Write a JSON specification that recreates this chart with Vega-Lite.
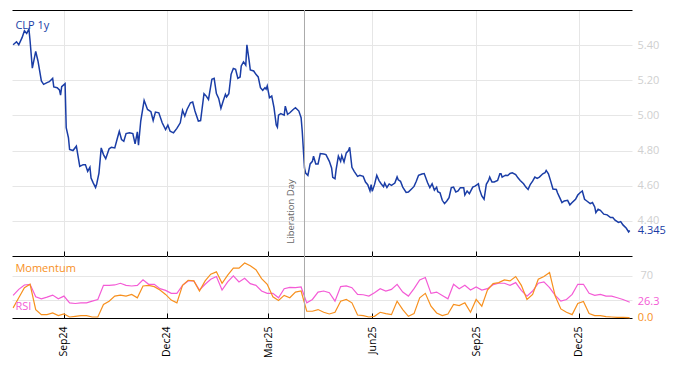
{
  "$schema": "https://vega.github.io/schema/vega-lite/v6.json",
  "padding": {"left": 10, "top": 9, "right": 0, "bottom": 0},
  "config": {"view": {"stroke": null}, "font": "Open Sans"},
  "spacing": 0,
  "bounds": "flush",
  "resolve": {"scale": {"x": "independent", "y": "independent"}},
  "datasets": {
    "events": [{"d": "2025-04-02", "event": "Liberation Day"}],
    "price": [
      {"d":"2024-07-18","p":5.402},{"d":"2024-07-21","p":5.419},{"d":"2024-07-23","p":5.402},{"d":"2024-07-26","p":5.444},
      {"d":"2024-07-28","p":5.482},{"d":"2024-07-30","p":5.467},{"d":"2024-08-01","p":5.491},{"d":"2024-08-02","p":5.425},
      {"d":"2024-08-04","p":5.269},{"d":"2024-08-07","p":5.364},{"d":"2024-08-09","p":5.310},{"d":"2024-08-12","p":5.196},
      {"d":"2024-08-14","p":5.177},{"d":"2024-08-17","p":5.187},{"d":"2024-08-19","p":5.192},{"d":"2024-08-22","p":5.211},
      {"d":"2024-08-23","p":5.162},{"d":"2024-08-26","p":5.158},{"d":"2024-08-28","p":5.145},{"d":"2024-08-29","p":5.116},
      {"d":"2024-08-30","p":5.164},{"d":"2024-09-02","p":5.181},{"d":"2024-09-03","p":4.930},{"d":"2024-09-05","p":4.872},
      {"d":"2024-09-06","p":4.806},{"d":"2024-09-09","p":4.800},{"d":"2024-09-12","p":4.825},{"d":"2024-09-15","p":4.710},
      {"d":"2024-09-18","p":4.720},{"d":"2024-09-20","p":4.720},{"d":"2024-09-22","p":4.682},{"d":"2024-09-24","p":4.705},
      {"d":"2024-09-25","p":4.644},{"d":"2024-09-27","p":4.615},{"d":"2024-09-29","p":4.590},{"d":"2024-09-30","p":4.610},
      {"d":"2024-10-02","p":4.672},{"d":"2024-10-04","p":4.815},{"d":"2024-10-06","p":4.777},{"d":"2024-10-08","p":4.754},
      {"d":"2024-10-11","p":4.810},{"d":"2024-10-13","p":4.819},{"d":"2024-10-16","p":4.815},{"d":"2024-10-18","p":4.863},
      {"d":"2024-10-20","p":4.910},{"d":"2024-10-22","p":4.863},{"d":"2024-10-24","p":4.853},{"d":"2024-10-26","p":4.897},
      {"d":"2024-10-29","p":4.901},{"d":"2024-11-01","p":4.897},{"d":"2024-11-03","p":4.838},{"d":"2024-11-05","p":4.907},
      {"d":"2024-11-06","p":4.830},{"d":"2024-11-08","p":4.968},{"d":"2024-11-11","p":5.086},{"d":"2024-11-14","p":5.034},
      {"d":"2024-11-17","p":5.021},{"d":"2024-11-19","p":4.971},{"d":"2024-11-21","p":5.019},{"d":"2024-11-24","p":5.015},
      {"d":"2024-11-27","p":4.958},{"d":"2024-11-30","p":4.920},{"d":"2024-12-02","p":4.945},{"d":"2024-12-04","p":4.910},
      {"d":"2024-12-07","p":4.901},{"d":"2024-12-10","p":4.926},{"d":"2024-12-13","p":4.958},{"d":"2024-12-15","p":5.029},
      {"d":"2024-12-17","p":4.996},{"d":"2024-12-19","p":5.034},{"d":"2024-12-22","p":5.072},{"d":"2024-12-24","p":5.076},
      {"d":"2024-12-26","p":5.025},{"d":"2024-12-29","p":4.968},{"d":"2024-12-31","p":4.971},{"d":"2025-01-03","p":5.124},
      {"d":"2025-01-05","p":5.110},{"d":"2025-01-07","p":5.091},{"d":"2025-01-10","p":5.206},{"d":"2025-01-12","p":5.211},
      {"d":"2025-01-14","p":5.124},{"d":"2025-01-16","p":5.097},{"d":"2025-01-18","p":5.040},{"d":"2025-01-20","p":5.082},
      {"d":"2025-01-22","p":5.120},{"d":"2025-01-23","p":5.105},{"d":"2025-01-25","p":5.124},{"d":"2025-01-27","p":5.234},
      {"d":"2025-01-29","p":5.267},{"d":"2025-01-31","p":5.263},{"d":"2025-02-02","p":5.211},{"d":"2025-02-04","p":5.219},
      {"d":"2025-02-05","p":5.282},{"d":"2025-02-07","p":5.305},{"d":"2025-02-09","p":5.286},{"d":"2025-02-10","p":5.402},
      {"d":"2025-02-12","p":5.310},{"d":"2025-02-13","p":5.259},{"d":"2025-02-16","p":5.253},{"d":"2025-02-18","p":5.234},
      {"d":"2025-02-20","p":5.219},{"d":"2025-02-22","p":5.158},{"d":"2025-02-24","p":5.143},{"d":"2025-02-26","p":5.158},
      {"d":"2025-02-27","p":5.149},{"d":"2025-02-28","p":5.168},{"d":"2025-03-02","p":5.101},{"d":"2025-03-04","p":5.110},
      {"d":"2025-03-06","p":5.044},{"d":"2025-03-08","p":4.945},{"d":"2025-03-09","p":4.933},{"d":"2025-03-10","p":5.002},
      {"d":"2025-03-12","p":5.010},{"d":"2025-03-15","p":5.002},{"d":"2025-03-16","p":5.053},{"d":"2025-03-18","p":5.006},
      {"d":"2025-03-20","p":5.015},{"d":"2025-03-23","p":5.034},{"d":"2025-03-25","p":5.044},{"d":"2025-03-28","p":5.025},
      {"d":"2025-03-30","p":4.987},{"d":"2025-03-31","p":4.910},{"d":"2025-04-02","p":4.701},{"d":"2025-04-03","p":4.672},
      {"d":"2025-04-05","p":4.659},{"d":"2025-04-07","p":4.724},{"d":"2025-04-09","p":4.739},{"d":"2025-04-10","p":4.768},
      {"d":"2025-04-12","p":4.724},{"d":"2025-04-14","p":4.724},{"d":"2025-04-16","p":4.783},{"d":"2025-04-19","p":4.781},
      {"d":"2025-04-21","p":4.777},{"d":"2025-04-24","p":4.739},{"d":"2025-04-26","p":4.701},{"d":"2025-04-27","p":4.648},
      {"d":"2025-04-29","p":4.640},{"d":"2025-04-30","p":4.691},{"d":"2025-05-02","p":4.768},{"d":"2025-05-04","p":4.739},
      {"d":"2025-05-05","p":4.771},{"d":"2025-05-07","p":4.735},{"d":"2025-05-09","p":4.787},{"d":"2025-05-11","p":4.800},
      {"d":"2025-05-12","p":4.819},{"d":"2025-05-14","p":4.705},{"d":"2025-05-16","p":4.682},{"d":"2025-05-19","p":4.653},
      {"d":"2025-05-21","p":4.659},{"d":"2025-05-24","p":4.653},{"d":"2025-05-26","p":4.621},{"d":"2025-05-28","p":4.606},
      {"d":"2025-05-30","p":4.571},{"d":"2025-05-31","p":4.606},{"d":"2025-06-01","p":4.568},{"d":"2025-06-03","p":4.606},
      {"d":"2025-06-05","p":4.659},{"d":"2025-06-07","p":4.629},{"d":"2025-06-09","p":4.610},{"d":"2025-06-11","p":4.594},
      {"d":"2025-06-12","p":4.615},{"d":"2025-06-14","p":4.590},{"d":"2025-06-16","p":4.610},{"d":"2025-06-18","p":4.602},
      {"d":"2025-06-21","p":4.615},{"d":"2025-06-23","p":4.650},{"d":"2025-06-24","p":4.634},{"d":"2025-06-26","p":4.625},
      {"d":"2025-06-28","p":4.592},{"d":"2025-07-01","p":4.562},{"d":"2025-07-03","p":4.564},{"d":"2025-07-06","p":4.583},
      {"d":"2025-07-08","p":4.596},{"d":"2025-07-10","p":4.625},{"d":"2025-07-12","p":4.659},{"d":"2025-07-15","p":4.667},
      {"d":"2025-07-17","p":4.669},{"d":"2025-07-20","p":4.617},{"d":"2025-07-22","p":4.589},{"d":"2025-07-24","p":4.611},
      {"d":"2025-07-26","p":4.575},{"d":"2025-07-28","p":4.592},{"d":"2025-07-29","p":4.566},{"d":"2025-07-31","p":4.560},
      {"d":"2025-08-02","p":4.517},{"d":"2025-08-04","p":4.498},{"d":"2025-08-06","p":4.513},{"d":"2025-08-08","p":4.532},
      {"d":"2025-08-10","p":4.589},{"d":"2025-08-12","p":4.592},{"d":"2025-08-14","p":4.564},{"d":"2025-08-16","p":4.570},
      {"d":"2025-08-18","p":4.589},{"d":"2025-08-21","p":4.589},{"d":"2025-08-22","p":4.547},{"d":"2025-08-24","p":4.570},
      {"d":"2025-08-26","p":4.555},{"d":"2025-08-29","p":4.592},{"d":"2025-08-31","p":4.598},{"d":"2025-09-03","p":4.611},
      {"d":"2025-09-04","p":4.579},{"d":"2025-09-06","p":4.542},{"d":"2025-09-08","p":4.523},{"d":"2025-09-10","p":4.608},
      {"d":"2025-09-12","p":4.630},{"d":"2025-09-13","p":4.649},{"d":"2025-09-15","p":4.621},{"d":"2025-09-17","p":4.621},
      {"d":"2025-09-20","p":4.630},{"d":"2025-09-22","p":4.668},{"d":"2025-09-23","p":4.668},{"d":"2025-09-24","p":4.649},
      {"d":"2025-09-27","p":4.660},{"d":"2025-09-29","p":4.658},{"d":"2025-10-01","p":4.670},{"d":"2025-10-03","p":4.674},
      {"d":"2025-10-06","p":4.664},{"d":"2025-10-08","p":4.645},{"d":"2025-10-10","p":4.630},{"d":"2025-10-13","p":4.611},
      {"d":"2025-10-15","p":4.592},{"d":"2025-10-17","p":4.579},{"d":"2025-10-19","p":4.608},{"d":"2025-10-21","p":4.626},
      {"d":"2025-10-23","p":4.649},{"d":"2025-10-25","p":4.642},{"d":"2025-10-27","p":4.649},{"d":"2025-10-30","p":4.668},
      {"d":"2025-11-01","p":4.674},{"d":"2025-11-02","p":4.687},{"d":"2025-11-04","p":4.668},{"d":"2025-11-06","p":4.626},
      {"d":"2025-11-08","p":4.581},{"d":"2025-11-11","p":4.579},{"d":"2025-11-12","p":4.560},{"d":"2025-11-14","p":4.532},
      {"d":"2025-11-16","p":4.504},{"d":"2025-11-18","p":4.513},{"d":"2025-11-21","p":4.517},{"d":"2025-11-23","p":4.491},
      {"d":"2025-11-25","p":4.504},{"d":"2025-11-28","p":4.523},{"d":"2025-11-30","p":4.547},{"d":"2025-12-02","p":4.560},
      {"d":"2025-12-04","p":4.570},{"d":"2025-12-06","p":4.523},{"d":"2025-12-08","p":4.513},{"d":"2025-12-11","p":4.498},
      {"d":"2025-12-13","p":4.504},{"d":"2025-12-15","p":4.479},{"d":"2025-12-16","p":4.447},{"d":"2025-12-18","p":4.466},
      {"d":"2025-12-20","p":4.460},{"d":"2025-12-23","p":4.438},{"d":"2025-12-26","p":4.434},{"d":"2025-12-29","p":4.419},
      {"d":"2025-12-31","p":4.419},{"d":"2026-01-02","p":4.404},{"d":"2026-01-05","p":4.391},{"d":"2026-01-07","p":4.396},
      {"d":"2026-01-09","p":4.377},{"d":"2026-01-12","p":4.358},{"d":"2026-01-14","p":4.337},{"d":"2026-01-15","p":4.345}
    ],
    "ind": [
      {"d":"2024-07-18","m":16.8,"r":37.5},{"d":"2024-07-23","m":33.6,"r":47.6},{"d":"2024-07-28","m":50.4,"r":54.9},
      {"d":"2024-08-02","m":56.0,"r":56.0},{"d":"2024-08-07","m":14.0,"r":35.3},{"d":"2024-08-12","m":5.6,"r":31.9},
      {"d":"2024-08-17","m":5.6,"r":34.7},{"d":"2024-08-22","m":8.4,"r":38.1},{"d":"2024-08-27","m":3.9,"r":31.9},
      {"d":"2024-09-01","m":6.7,"r":36.4},{"d":"2024-09-06","m":1.7,"r":25.2},{"d":"2024-09-11","m":2.8,"r":24.1},
      {"d":"2024-09-16","m":3.9,"r":25.2},{"d":"2024-09-21","m":3.9,"r":25.2},{"d":"2024-09-26","m":1.7,"r":28.0},
      {"d":"2024-10-01","m":1.7,"r":30.8},{"d":"2024-10-06","m":22.4,"r":54.3},{"d":"2024-10-11","m":28.0,"r":54.3},
      {"d":"2024-10-16","m":36.4,"r":54.9},{"d":"2024-10-21","m":38.1,"r":57.7},{"d":"2024-10-26","m":36.4,"r":54.3},
      {"d":"2024-10-31","m":39.2,"r":53.2},{"d":"2024-11-05","m":33.6,"r":54.3},{"d":"2024-11-10","m":53.2,"r":63.3},
      {"d":"2024-11-15","m":54.3,"r":56.0},{"d":"2024-11-20","m":52.1,"r":56.0},{"d":"2024-11-25","m":46.5,"r":48.7},
      {"d":"2024-11-30","m":39.2,"r":45.9},{"d":"2024-12-05","m":29.7,"r":40.9},{"d":"2024-12-10","m":25.2,"r":40.9},
      {"d":"2024-12-15","m":54.3,"r":54.3},{"d":"2024-12-20","m":62.7,"r":61.6},{"d":"2024-12-25","m":61.6,"r":61.6},
      {"d":"2024-12-30","m":44.8,"r":46.5},{"d":"2025-01-04","m":61.6,"r":56.0},{"d":"2025-01-09","m":72.8,"r":64.4},
      {"d":"2025-01-14","m":76.7,"r":68.9},{"d":"2025-01-19","m":57.7,"r":46.5},{"d":"2025-01-24","m":71.1,"r":59.9},
      {"d":"2025-01-29","m":82.9,"r":70.0},{"d":"2025-02-03","m":82.9,"r":59.9},{"d":"2025-02-08","m":91.3,"r":66.1},
      {"d":"2025-02-13","m":86.8,"r":57.1},{"d":"2025-02-18","m":80.1,"r":54.3},{"d":"2025-02-23","m":65.5,"r":44.8},
      {"d":"2025-02-28","m":56.0,"r":40.9},{"d":"2025-03-05","m":35.3,"r":40.9},{"d":"2025-03-10","m":29.1,"r":33.6},
      {"d":"2025-03-15","m":37.5,"r":48.7},{"d":"2025-03-20","m":33.6,"r":51.0},{"d":"2025-03-25","m":43.1,"r":50.4},
      {"d":"2025-03-30","m":44.8,"r":51.5},{"d":"2025-04-04","m":11.2,"r":25.2},{"d":"2025-04-09","m":11.2,"r":30.8},
      {"d":"2025-04-14","m":14.0,"r":43.1},{"d":"2025-04-19","m":9.5,"r":44.8},{"d":"2025-04-24","m":6.7,"r":42.0},
      {"d":"2025-04-29","m":9.5,"r":28.0},{"d":"2025-05-04","m":28.0,"r":52.1},{"d":"2025-05-09","m":30.8,"r":53.2},
      {"d":"2025-05-14","m":25.2,"r":50.4},{"d":"2025-05-19","m":5.0,"r":39.2},{"d":"2025-05-24","m":3.9,"r":38.6},
      {"d":"2025-05-29","m":1.7,"r":36.4},{"d":"2025-06-03","m":2.8,"r":42.0},{"d":"2025-06-08","m":9.5,"r":48.7},
      {"d":"2025-06-13","m":7.3,"r":44.8},{"d":"2025-06-18","m":5.6,"r":47.6},{"d":"2025-06-23","m":28.0,"r":56.0},
      {"d":"2025-06-28","m":14.0,"r":43.1},{"d":"2025-07-03","m":2.8,"r":36.4},{"d":"2025-07-08","m":7.3,"r":48.7},
      {"d":"2025-07-13","m":33.6,"r":63.3},{"d":"2025-07-18","m":40.9,"r":67.2},{"d":"2025-07-23","m":19.6,"r":40.9},
      {"d":"2025-07-28","m":8.4,"r":43.1},{"d":"2025-08-02","m":3.9,"r":37.5},{"d":"2025-08-07","m":6.7,"r":31.9},
      {"d":"2025-08-12","m":22.4,"r":56.0},{"d":"2025-08-17","m":20.7,"r":48.7},{"d":"2025-08-22","m":25.2,"r":54.3},
      {"d":"2025-08-27","m":9.5,"r":46.5},{"d":"2025-09-01","m":30.8,"r":51.5},{"d":"2025-09-06","m":19.6,"r":46.5},
      {"d":"2025-09-11","m":46.5,"r":48.7},{"d":"2025-09-16","m":57.1,"r":55.4},{"d":"2025-09-21","m":58.8,"r":57.7},
      {"d":"2025-09-26","m":63.3,"r":57.7},{"d":"2025-10-01","m":61.6,"r":54.3},{"d":"2025-10-06","m":68.9,"r":58.8},
      {"d":"2025-10-11","m":54.3,"r":45.9},{"d":"2025-10-16","m":30.8,"r":36.4},{"d":"2025-10-21","m":39.2,"r":44.8},
      {"d":"2025-10-26","m":64.4,"r":57.7},{"d":"2025-10-31","m":68.9,"r":59.9},{"d":"2025-11-05","m":75.6,"r":50.4},
      {"d":"2025-11-10","m":36.4,"r":37.5},{"d":"2025-11-15","m":15.1,"r":28.0},{"d":"2025-11-20","m":9.5,"r":30.8},
      {"d":"2025-11-25","m":5.6,"r":39.2},{"d":"2025-11-30","m":24.1,"r":56.0},{"d":"2025-12-05","m":27.4,"r":56.0},
      {"d":"2025-12-10","m":7.3,"r":40.9},{"d":"2025-12-15","m":3.9,"r":37.5},{"d":"2025-12-20","m":3.9,"r":39.2},
      {"d":"2025-12-25","m":2.2,"r":36.4},{"d":"2025-12-30","m":1.7,"r":36.4},{"d":"2026-01-04","m":1.1,"r":33.6},
      {"d":"2026-01-09","m":1.1,"r":30.8},{"d":"2026-01-14","m":0.6,"r":26.9},{"d":"2026-01-15","m":0.0,"r":26.3}
    ]
  },
  "vconcat": [
    {
      "width": 620,
      "height": 246,
      "resolve": {"axis": {"x": "independent"}},
      "layer": [
        {
          "data": {"name": "price"},
          "mark": {"type": "line", "color": "#1a3da6", "strokeWidth": 1.5},
          "encoding": {
            "x": {
              "field": "d", "type": "temporal",
              "scale": {"type": "utc", "domain": [{"year": 2024, "month": 7, "date": 17, "utc": true}, {"year": 2026, "month": 1, "date": 17, "utc": true}]},
              "axis": {
                "orient": "bottom", "title": null, "labels": false, "ticks": true, "tickSize": -5,
                "tickColor": "#000000", "domainColor": "#000000", "grid": true, "gridColor": "#e6e6e6",
                "values": [
                  {"year": 2024, "month": 9, "date": 1, "utc": true}, {"year": 2024, "month": 12, "date": 1, "utc": true},
                  {"year": 2025, "month": 3, "date": 1, "utc": true}, {"year": 2025, "month": 6, "date": 1, "utc": true},
                  {"year": 2025, "month": 9, "date": 1, "utc": true}, {"year": 2025, "month": 12, "date": 1, "utc": true}
                ]
              }
            },
            "y": {
              "field": "p", "type": "quantitative",
              "scale": {"domain": [4.2, 5.6], "zero": false, "nice": false},
              "axis": {
                "orient": "right", "title": null, "values": [4.4, 4.6, 4.8, 5.0, 5.2, 5.4], "format": ".2f",
                "labelColor": "#cfcfcf", "labelFontSize": 11, "labelPadding": 5, "domain": false, "ticks": false,
                "grid": true, "gridColor": "#e6e6e6"
              }
            }
          }
        },
        {
          "data": {"name": "events"},
          "mark": {"type": "rule", "color": "#aaaaaa", "strokeWidth": 1},
          "encoding": {
            "x": {
              "field": "d", "type": "temporal",
              "axis": {"orient": "top", "title": null, "labels": false, "ticks": false, "grid": false, "domainColor": "#000000", "domainWidth": 1}
            }
          }
        },
        {
          "data": {"name": "events"},
          "mark": {"type": "text", "angle": 270, "align": "left", "baseline": "middle", "dy": -13, "fontSize": 9.5, "color": "#666666"},
          "encoding": {
            "x": {"field": "d", "type": "temporal", "axis": null},
            "y": {"datum": 4.27},
            "text": {"field": "event"}
          }
        },
        {
          "data": {"values": [{"label": "CLP 1y"}]},
          "mark": {"type": "text", "align": "left", "baseline": "middle", "fontSize": 11, "color": "#1a3da6"},
          "encoding": {
            "x": {"datum": {"year": 2024, "month": 7, "date": 20, "utc": true}, "type": "temporal", "axis": null},
            "y": {"datum": 5.51},
            "text": {"field": "label"}
          }
        },
        {
          "data": {"name": "price"},
          "transform": [
            {"window": [{"op": "row_number", "as": "rn"}], "sort": [{"field": "d", "order": "descending"}]},
            {"filter": "datum.rn == 1"}
          ],
          "mark": {"type": "text", "align": "left", "baseline": "middle", "dx": 8, "fontSize": 11, "color": "#1a3da6"},
          "encoding": {
            "x": {"field": "d", "type": "temporal", "axis": null},
            "y": {"field": "p", "type": "quantitative"},
            "text": {"field": "p", "type": "quantitative", "format": ".3f"}
          }
        }
      ]
    },
    {
      "width": 620,
      "height": 62,
      "layer": [
        {
          "data": {"name": "ind"},
          "mark": {"type": "line", "color": "#f45bd6", "strokeWidth": 1.2},
          "encoding": {
            "x": {
              "field": "d", "type": "temporal",
              "scale": {"type": "utc", "domain": [{"year": 2024, "month": 7, "date": 17, "utc": true}, {"year": 2026, "month": 1, "date": 17, "utc": true}]},
              "axis": {
                "orient": "bottom", "title": null, "format": "%b%y", "labelAngle": -90, "labelFontSize": 10.5,
                "labelColor": "#000000", "labelPadding": 13, "tickSize": -5, "tickColor": "#000000",
                "domainColor": "#000000", "grid": true, "gridColor": "#e6e6e6",
                "values": [
                  {"year": 2024, "month": 9, "date": 1, "utc": true}, {"year": 2024, "month": 12, "date": 1, "utc": true},
                  {"year": 2025, "month": 3, "date": 1, "utc": true}, {"year": 2025, "month": 6, "date": 1, "utc": true},
                  {"year": 2025, "month": 9, "date": 1, "utc": true}, {"year": 2025, "month": 12, "date": 1, "utc": true}
                ]
              }
            },
            "y": {
              "field": "r", "type": "quantitative",
              "scale": {"domain": [0, 103], "zero": false, "nice": false},
              "axis": {
                "orient": "right", "title": null, "values": [30, 70], "labelExpr": "datum.value == 70 ? '70' : ''",
                "labelColor": "#cfcfcf", "labelFontSize": 11, "labelPadding": 8, "domain": false, "ticks": false,
                "grid": true, "gridColor": "#e6e6e6"
              }
            }
          }
        },
        {
          "data": {"name": "ind"},
          "mark": {"type": "line", "color": "#f7901e", "strokeWidth": 1.2},
          "encoding": {
            "x": {"field": "d", "type": "temporal"},
            "y": {"field": "m", "type": "quantitative"}
          }
        },
        {
          "data": {"name": "events"},
          "mark": {"type": "rule", "color": "#aaaaaa", "strokeWidth": 1},
          "encoding": {"x": {"field": "d", "type": "temporal"}}
        },
        {
          "data": {"values": [{"label": "Momentum"}]},
          "mark": {"type": "text", "align": "left", "baseline": "middle", "fontSize": 11, "color": "#f7901e"},
          "encoding": {
            "x": {"datum": {"year": 2024, "month": 7, "date": 20, "utc": true}, "type": "temporal"},
            "y": {"datum": 81.4},
            "text": {"field": "label"}
          }
        },
        {
          "data": {"values": [{"label": "RSI"}]},
          "mark": {"type": "text", "align": "left", "baseline": "middle", "fontSize": 11, "color": "#f45bd6"},
          "encoding": {
            "x": {"datum": {"year": 2024, "month": 7, "date": 20, "utc": true}, "type": "temporal"},
            "y": {"datum": 18.3},
            "text": {"field": "label"}
          }
        },
        {
          "data": {"name": "ind"},
          "transform": [
            {"window": [{"op": "row_number", "as": "rn"}], "sort": [{"field": "d", "order": "descending"}]},
            {"filter": "datum.rn == 1"}
          ],
          "mark": {"type": "text", "align": "left", "baseline": "middle", "dx": 8, "fontSize": 11, "color": "#f45bd6"},
          "encoding": {
            "x": {"field": "d", "type": "temporal"},
            "y": {"field": "r", "type": "quantitative"},
            "text": {"field": "r", "type": "quantitative", "format": ".1f"}
          }
        },
        {
          "data": {"name": "ind"},
          "transform": [
            {"window": [{"op": "row_number", "as": "rn"}], "sort": [{"field": "d", "order": "descending"}]},
            {"filter": "datum.rn == 1"}
          ],
          "mark": {"type": "text", "align": "left", "baseline": "middle", "dx": 8, "fontSize": 11, "color": "#f7901e"},
          "encoding": {
            "x": {"field": "d", "type": "temporal"},
            "y": {"field": "m", "type": "quantitative"},
            "text": {"field": "m", "type": "quantitative", "format": ".1f"}
          }
        }
      ]
    }
  ]
}
